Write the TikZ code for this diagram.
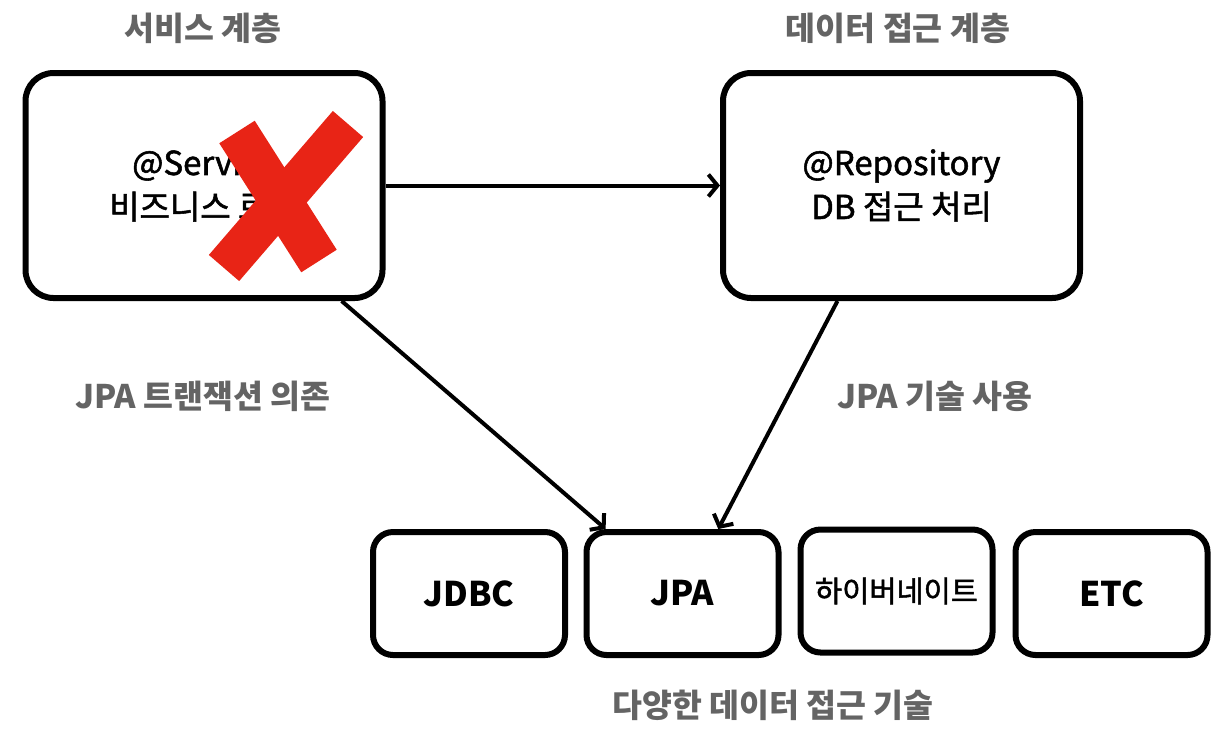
\documentclass[tikz,border=0pt]{standalone}
\usepackage{fontspec}
\setmainfont{Noto Sans CJK KR}
\newfontfamily\boxfont[FakeBold=1.6]{Noto Sans CJK KR}
\usepackage{tikz}
\usetikzlibrary{arrows.meta}
\usepackage{xcolor}
\definecolor{labelgray}{RGB}{100,100,100}
\definecolor{xred}{RGB}{232,36,22}

\begin{document}
\begin{tikzpicture}[x=1pt, y=-1pt,
    layerbox/.style={draw, line width=6pt, rounded corners=28pt, align=center,
        font=\boxfont\fontsize{33}{44}\selectfont, inner sep=0pt},
    techbox/.style={draw, line width=6pt, rounded corners=20pt,
        minimum width=192pt, minimum height=123pt, inner sep=0pt,
        font=\fontsize{34}{40}\selectfont\bfseries},
    caption/.style={text=labelgray, font=\fontsize{32.5}{38}\selectfont\bfseries},
    link/.style={line width=4pt, -{Straight Barb[length=9pt, width=22pt, line width=4pt]}}]
    \useasboundingbox (0,0) rectangle (1222,740);

    % Layers
    \node[layerbox, minimum width=357pt, minimum height=225pt] (svc) at (204,185.5)
        {@Service\\비즈니스 로직};
    \node[layerbox, minimum width=357pt, minimum height=225pt] (repo) at (901.5,185.5)
        {@Repository\\DB 접근 처리};
    \node[caption] (svclabel) at (203,28) {서비스 계층};
    \node[caption] (repolabel) at (898,28) {데이터 접근 계층};

    % Data access technologies
    \node[techbox] (jdbc) at (469,593.5) {JDBC};
    \node[techbox] (jpa) at (682.5,593.5) {JPA};
    \node[techbox, font=\boxfont\fontsize{29.5}{34}\selectfont] (hib) at (896.5,591) {하이버네이트};
    \node[techbox] (etc) at (1111.5,593.5) {ETC};
    \node[caption] (techlabel) at (773,705) {다양한 데이터 접근 기술};

    % Dependencies
    \draw[link] (svc.east) -- (repo.west);
    \draw[link] (svc.-40) -- (jpa.140);
    \draw[link] (repo.-119) -- (jpa.61);
    \node[caption] (txlabel) at (203,396) {JPA 트랜잭션 의존};
    \node[caption] (uselabel) at (935,396) {JPA 기술 사용};

    % Red cross over the service layer
    \draw[xred, line width=42pt] (237,132) -- (319,261);
    \draw[xred, line width=40pt] (348,124) -- (224,268);
\end{tikzpicture}
\end{document}
